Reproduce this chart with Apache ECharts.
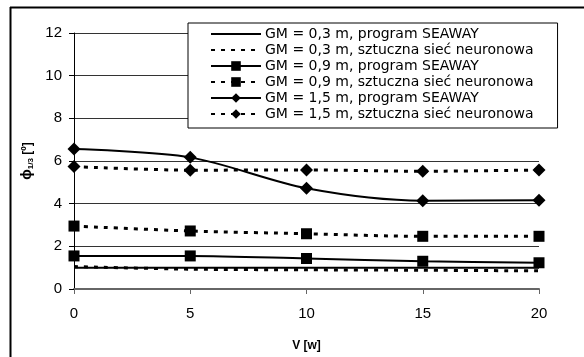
<!DOCTYPE html>
<html>
<head>
<meta charset="utf-8">
<script src="https://cdn.jsdelivr.net/npm/echarts@6/dist/echarts.min.js"></script>
<style>
  html, body { margin: 0; padding: 0; background: #fff; }
  #main { width: 584px; height: 357px; }
</style>
</head>
<body>
<div id="main"></div>
<script>
var speeds = [0, 5, 10, 15, 20];
var gm03Seaway = [1.0, 1.0, 1.0, 1.0, 1.0];
var gm03Net = [1.05, 0.93, 0.9, 0.88, 0.85];
var gm09Seaway = [1.55, 1.55, 1.43, 1.3, 1.23];
var gm09Net = [2.95, 2.72, 2.59, 2.47, 2.47];
var gm15Seaway = [6.56, 6.17, 4.72, 4.14, 4.16];
var gm15Net = [5.74, 5.57, 5.58, 5.52, 5.58];
var seriesNames = [
  'GM = 0,3 m, program SEAWAY',
  'GM = 0,3 m, sztuczna sieć neuronowa',
  'GM = 0,9 m, program SEAWAY',
  'GM = 0,9 m, sztuczna sieć neuronowa',
  'GM = 1,5 m, program SEAWAY',
  'GM = 1,5 m, sztuczna sieć neuronowa'
];

var FONT = 'Liberation Sans, Arial, sans-serif';

function pairs(vals) {
  return speeds.map(function (v, i) { return [v, vals[i]]; });
}

function line(name, vals, dashed, symbol, size) {
  return {
    name: name,
    type: 'line',
    data: pairs(vals),
    smooth: 0.3,
    symbol: symbol,
    symbolSize: size,
    showSymbol: symbol !== 'none',
    itemStyle: { color: '#000' },
    lineStyle: dashed
      ? { color: '#000', width: 3, type: [4, 6] }
      : { color: '#000', width: 2, type: 'solid' },
    z: 3
  };
}

// legend entries; plain lines get an invisible marker
var legendData = seriesNames.map(function (n, i) {
  return i < 2 ? { name: n, itemStyle: { opacity: 0 } } : { name: n };
});

var chart = echarts.init(document.getElementById('main'));
chart.setOption({
  animation: false,
  textStyle: { fontFamily: FONT, color: '#000' },
  grid: { left: 74, right: 45, top: 33, bottom: 66 },
  legend: {
    orient: 'vertical',
    left: 188,
    top: 23,
    backgroundColor: '#fff',
    borderColor: '#000',
    borderWidth: 1,
    borderRadius: 0,
    padding: [4, 24, 7, 22],
    itemWidth: 50,
    itemHeight: 12,
    itemGap: 2,
    textStyle: { fontSize: 14, lineHeight: 14, fontFamily: 'DejaVu Sans', color: '#000', padding: [0, 0, 0, -1] },
    data: legendData
  },
  xAxis: {
    type: 'value',
    min: 0,
    max: 20,
    interval: 5,
    name: 'V [w]',
    nameLocation: 'middle',
    nameGap: 51,
    nameTextStyle: { fontSize: 12, fontWeight: 'bold', fontFamily: FONT, color: '#000' },
    axisLine: { lineStyle: { color: '#666', width: 2 } },
    axisTick: { show: true, length: 5, lineStyle: { color: '#666' } },
    axisLabel: { fontSize: 15, fontFamily: FONT, color: '#000', margin: 17 },
    splitLine: { show: false }
  },
  yAxis: {
    type: 'value',
    min: 0,
    max: 12,
    interval: 2,
    name: '{phi|ϕ}{sub|1/3} [º]',
    nameLocation: 'middle',
    nameRotate: 90,
    nameGap: 38,
    nameTextStyle: {
      fontSize: 12,
      fontWeight: 'bold',
      fontFamily: FONT,
      color: '#000',
      rich: {
        phi: { fontSize: 14, fontWeight: 'bold', color: '#000' },
        sub: { fontSize: 8, fontWeight: 'bold', color: '#000', verticalAlign: 'bottom', padding: [4, 0, 0, 0] }
      }
    },
    axisLine: { show: true, lineStyle: { color: '#000', width: 1 } },
    axisTick: { show: true, length: 5, lineStyle: { color: '#000' } },
    axisLabel: { fontSize: 15, fontFamily: FONT, color: '#000', margin: 12 },
    splitLine: { show: true, lineStyle: { color: '#333', width: 1 } }
  },
  graphic: [
    { type: 'line', shape: { x1: 10, y1: 7.5, x2: 584, y2: 7.5 }, style: { stroke: '#000', lineWidth: 2 }, silent: true },
    { type: 'line', shape: { x1: 10.5, y1: 7, x2: 10.5, y2: 357 }, style: { stroke: '#000', lineWidth: 2 }, silent: true }
  ],
  series: [
    line(seriesNames[0], gm03Seaway, false, 'none', 0),
    line(seriesNames[1], gm03Net, true, 'none', 0),
    line(seriesNames[2], gm09Seaway, false, 'rect', 11),
    line(seriesNames[3], gm09Net, true, 'rect', 11),
    line(seriesNames[4], gm15Seaway, false, 'diamond', 13),
    line(seriesNames[5], gm15Net, true, 'diamond', 13)
  ]
});
</script>
</body>
</html>
